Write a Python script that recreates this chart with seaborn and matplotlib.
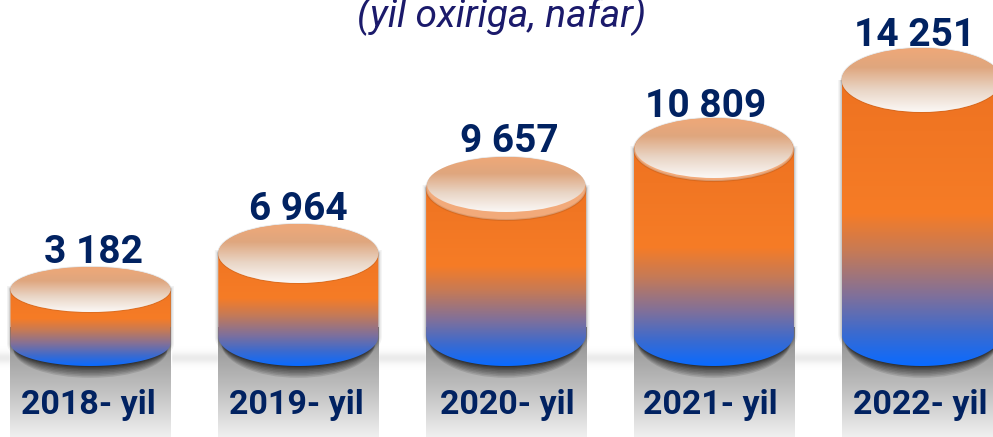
import numpy as np
import pandas as pd
import matplotlib
matplotlib.use('Agg')
import matplotlib.pyplot as plt
import seaborn as sns
from matplotlib.colors import LinearSegmentedColormap
from matplotlib.patches import Ellipse, Polygon, Rectangle

# --- data ---
years = ['2018- yil', '2019- yil', '2020- yil', '2021- yil', '2022- yil']
value_labels = ['3 182', '6 964', '9 657', '10 809', '14 251']
# the cylinders in the picture are not to scale, so heights are read off separately
drawn_heights = [76.5, 112.5, 177.5, 216.5, 286]

# --- look ---
cap_sizes = [45, 59, 63, 63, 64]
cap_rings = [0, 0, 8, 3, 0]
value_dx = [3, 0, 3, -8, -7]
value_gap = [4, 4, 5, 1, 2]
year_dx = [-2, -2, 1, -4, -1]
navy = '#012261'

sns.set_style('white')
plt.rcParams['font.family'] = ['Roboto', 'DejaVu Sans']

body_cmap = LinearSegmentedColormap.from_list('body', [
    (0, '#ec7020'), (0.52, '#f67c26'), (0.64, '#c67a56'), (0.78, '#80709a'),
    (0.9, '#3a6ad0'), (1, '#0a6bff')])
cap_cmap = LinearSegmentedColormap.from_list('cap', [
    (0, '#efa878'), (0.3, '#dfa67e'), (0.65, '#e9d5c5'), (1, '#fbf8f6')])
floor_cmap = LinearSegmentedColormap.from_list('floor', [
    (0, '#8a8a8a'), (0.3, '#a6a6a6'), (0.65, '#c8c8c8'), (1, '#f0f0f0')])


def gradient(ax, cmap, x0, x1, y0, y1, clip=None, zorder=2):
    im = ax.imshow(np.linspace(0, 1, 256).reshape(-1, 1), cmap=cmap, aspect='auto',
                   extent=(x0, x1, y0, y1), zorder=zorder)
    if clip is not None:
        im.set_clip_path(clip)
    return im


fig = plt.figure(figsize=(9.93, 4.37), dpi=100)
ax = fig.add_axes([0, 0, 1, 1])

df = pd.DataFrame({'year': years, 'height': drawn_heights})
sns.barplot(data=df, x='year', y='height', ax=ax, color='#f07a24', width=0.77, saturation=1, zorder=1)

xlim = (-90.5 / 207.8, (993 - 90.5) / 207.8)
ylim = (-71, 366)
dx = 1 / 207.8  # one pixel in category units

# soft floor line behind the cylinders
glow = np.zeros((60, 1, 4))
glow[..., :3] = 0.72
glow[:, 0, 3] = np.exp(-(np.linspace(-1, 1, 60) * 2.4) ** 2) * 0.28
ax.imshow(glow, aspect='auto', extent=(xlim[0], xlim[1], -6, 22), zorder=0.5)

for i, bar in enumerate(list(ax.patches)):
    x0, w = bar.get_x(), bar.get_width()
    x1, xc = x0 + w, x0 + w / 2
    top = bar.get_height()
    ch = cap_sizes[i]
    semi = ch / 2

    # gray reflection under the cylinder with a dark contact shadow
    floor_clip = Rectangle((x0, -71), w, 110, transform=ax.transData)
    gradient(ax, floor_cmap, x0, x1, -71, 39, clip=floor_clip, zorder=1.5)
    for k in range(8):
        sh = Ellipse((xc, semi - 0.75 * k - 1), w - 6 * dx, ch + k * 1.6, fc='black', ec='none',
                     alpha=0.11, zorder=1.6)
        ax.add_patch(sh)
        sh.set_clip_path(floor_clip)

    # cylinder body
    t = np.linspace(np.pi, 2 * np.pi, 60)
    arc = np.column_stack([xc + w / 2 * np.cos(t), semi + semi * np.sin(t)])
    outline = np.vstack([[x0, top], arc, [x1, top]])
    for lw, a in [(5, 0.05), (3, 0.07), (1.5, 0.1)]:
        ax.add_patch(Polygon(outline, closed=True, fc='none', ec='black', lw=lw, alpha=a, zorder=1.7))
    poly = Polygon(outline, closed=True, fc='none', ec='none', zorder=1.8)
    ax.add_patch(poly)
    gradient(ax, body_cmap, x0, x1, 0, top + semi, clip=poly, zorder=2)

    # lid: pale rim plus gradient face
    ax.add_patch(Ellipse((xc, top), w, ch, fc='#f2aa7a', ec='#00000018', lw=1.5, zorder=3))
    ring = cap_rings[i]
    face = Ellipse((xc, top + ring / 2), w - 2 * dx * (ring > 0), ch - ring, fc='none', ec='none', zorder=3.1)
    ax.add_patch(face)
    gradient(ax, cap_cmap, x0, x1, top + ring - semi, top + semi, clip=face, zorder=3.2)

    # Roboto is wider than the reference's condensed face, so sizes are set to match the text widths
    ax.text(xc + value_dx[i] * dx, top + semi + value_gap[i], value_labels[i], ha='center', va='baseline',
            fontsize=28, fontweight='bold', color=navy, zorder=5)
    ax.text(xc + year_dx[i] * dx, -39, years[i], ha='center', va='center',
            fontsize=24.5, fontweight='bold', color=navy, zorder=5)

ax.text((502 - 90.5) * dx, 339, '(yil oxiriga, nafar)', ha='center', va='baseline', fontsize=28,
        style='italic', color='#1b1a6b', zorder=5)

ax.set_xlim(*xlim)
ax.set_ylim(*ylim)
ax.set_axis_off()

fig.savefig('out.png', dpi=100)
